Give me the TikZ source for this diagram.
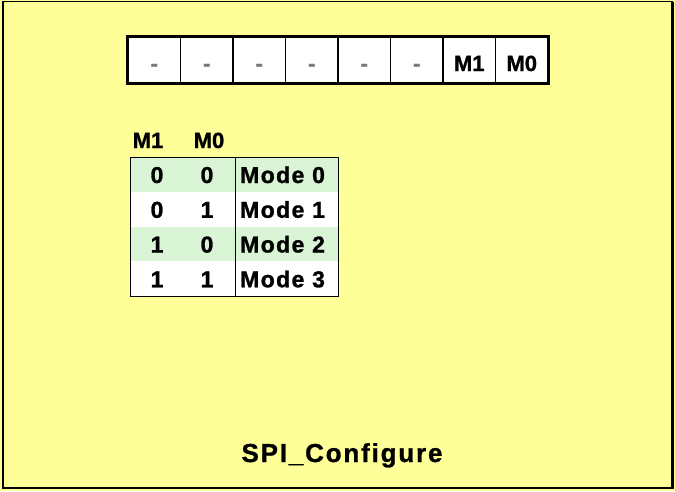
\documentclass[tikz,border=0pt]{standalone}
\usepackage{fontspec}
\setmainfont{Liberation Sans}[BoldFeatures={FakeBold=1.2}]
\newfontfamily\modefont{Liberation Sans}[LetterSpace=6,BoldFeatures={FakeBold=1.2}]
\newfontfamily\titlefont{Liberation Sans}[LetterSpace=7,BoldFeatures={FakeBold=1}]
\definecolor{panel}{RGB}{255,255,153}
\definecolor{mint}{RGB}{218,245,214}
\definecolor{unused}{RGB}{120,120,120}
\begin{document}
\begin{tikzpicture}[x=1pt,y=-1pt,
    bitcell/.style={draw,line width=1.2pt,fill=white,minimum width=52.5pt,minimum height=46pt,
      inner sep=0pt,text height=22pt,text depth=0pt,font=\fontsize{22}{22}\selectfont\bfseries},
    digit/.style={inner sep=0pt,anchor=base,font=\fontsize{23}{23}\selectfont\bfseries},
    modetext/.style={inner sep=0pt,anchor=base west,font=\fontsize{23}{23}\modefont\bfseries}]
    \useasboundingbox (0,0) rectangle (675,491);
    % yellow panel with its frame
    \fill[panel] (0,0) rectangle (675,491);
    \draw[line width=1pt] (2,1.5) -- (673,1.5);
    \draw[line width=2.5pt] (3,1.5) -- (3,488) -- (672.5,488) -- (672.5,1.5);
    % register bits 7..0
    \foreach \t [count=\i from 0] in {-,-,-,-,-,-,M1,M0}
        \node[bitcell,text=\ifnum\i<6 unused\else black\fi] (bit\i) at (154.25+52.5*\i,60) {\t};
    \draw[line width=3pt] (bit0.north west) rectangle (bit7.south east);
    % mode table
    \node[digit,font=\fontsize{22}{22}\selectfont\bfseries] (hm1) at (148,148) {M1};
    \node[digit,font=\fontsize{22}{22}\selectfont\bfseries] (hm0) at (209,148) {M0};
    \foreach \a/\b [count=\i from 0] in {0/0,0/1,1/0,1/1} {
        \pgfmathsetmacro{\rowtop}{157+34.75*\i}
        \ifodd\i \def\rowfill{white}\else \def\rowfill{mint}\fi
        \fill[\rowfill] (130,\rowtop) rectangle (338,\rowtop+34.75);
        \node[digit] (m1\i) at (157,\rowtop+26) {\a};
        \node[digit] (m0\i) at (207,\rowtop+26) {\b};
        \node[modetext] (mode\i) at (240,\rowtop+26) {Mode \i};
    }
    \draw[line width=0.8pt] (130,157) rectangle (338,296);
    \draw[line width=0.8pt] (235,157) -- (235,296);
    \node[inner sep=0pt,anchor=base,font=\fontsize{26}{26}\titlefont\bfseries] (title) at (342,462) {SPI\_Configure};
\end{tikzpicture}
\end{document}
